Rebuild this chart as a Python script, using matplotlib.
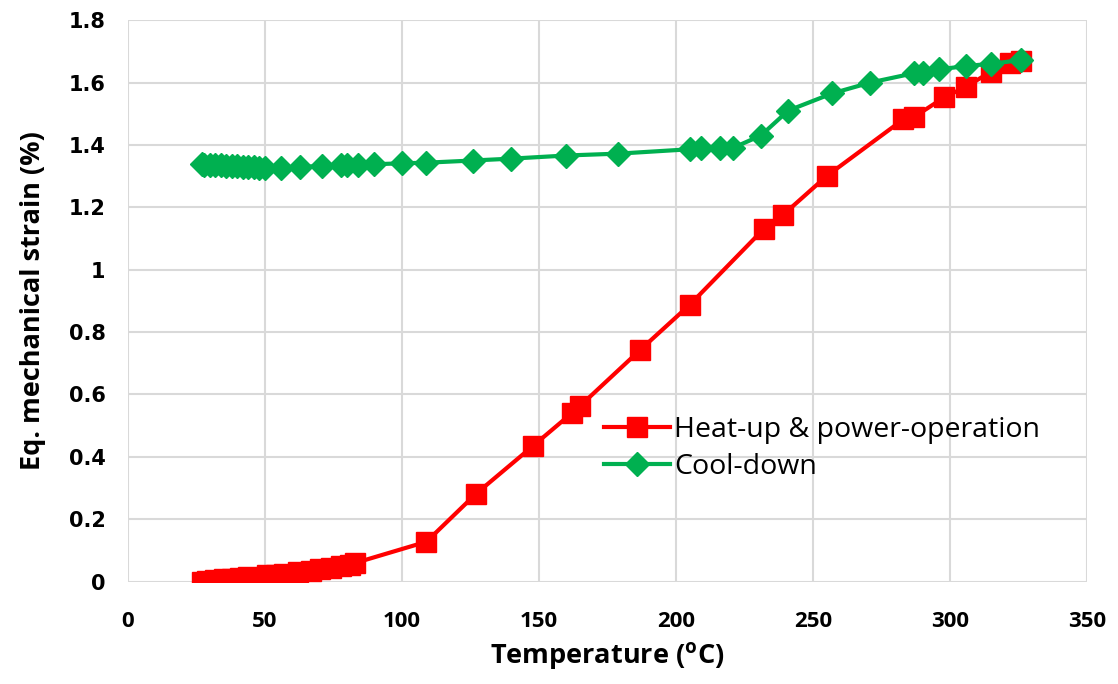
import matplotlib.pyplot as plt

# Heat-up & power-operation (temperature in degC, strain in %)
heat_temp = [27, 29, 32, 35, 38, 41, 44, 51, 54, 57, 62, 67, 70, 74, 78, 81, 83,
             109, 127, 148, 162, 165, 187, 205, 232, 239, 255, 283, 287, 298,
             306, 315, 322, 326]
heat_strain = [0.0, 0.002, 0.005, 0.007, 0.01, 0.012, 0.015, 0.02, 0.022, 0.025,
               0.03, 0.035, 0.04, 0.045, 0.05, 0.055, 0.06,
               0.128, 0.281, 0.436, 0.54, 0.563, 0.743, 0.887, 1.13, 1.175, 1.30,
               1.482, 1.49, 1.553, 1.587, 1.635, 1.662, 1.67]

# Cool-down
cool_temp = [326, 315, 306, 296, 290, 287, 271, 257, 241, 231, 221, 216, 209, 205,
             179, 160, 140, 126, 109, 100, 90, 84, 80, 78, 71, 63, 56,
             50, 48, 46, 44, 42, 40, 38, 36, 34, 32, 30, 28, 27]
cool_strain = [1.672, 1.66, 1.653, 1.642, 1.632, 1.63, 1.6, 1.565, 1.51, 1.43,
               1.391, 1.389, 1.389, 1.386,
               1.372, 1.366, 1.356, 1.35, 1.343, 1.341, 1.338, 1.337, 1.337, 1.334,
               1.332, 1.33, 1.327,
               1.326, 1.327, 1.328, 1.329, 1.33, 1.331, 1.332, 1.333, 1.334,
               1.335, 1.336, 1.337, 1.338]

x_ticks = [0, 50, 100, 150, 200, 250, 300, 350]
y_ticks = [0, 0.2, 0.4, 0.6, 0.8, 1.0, 1.2, 1.4, 1.6, 1.8]
y_tick_labels = ['0', '0.2', '0.4', '0.6', '0.8', '1', '1.2', '1.4', '1.6', '1.8']

fig = plt.figure(figsize=(11.18, 6.84), dpi=100)
ax = fig.add_axes([0.1142, 0.1496, 0.8581, 0.821])

ax.plot(heat_temp, heat_strain, color='#FF0000', lw=3, marker='s', ms=15,
        label='Heat-up & power-operation', zorder=3)
ax.plot(cool_temp, cool_strain, color='#00B050', lw=3, marker='D', ms=12.5,
        label='Cool-down', zorder=4)

ax.set_xlim(0, 350)
ax.set_ylim(0, 1.8)
ax.set_xticks(x_ticks)
ax.set_yticks(y_ticks)
ax.set_yticklabels(y_tick_labels)

ax.grid(True, color='#D9D9D9', lw=1.5)
ax.set_axisbelow(True)
for s in ax.spines.values():
    s.set_visible(False)
ax.tick_params(axis='x', length=0, pad=21)
ax.tick_params(axis='y', length=0, pad=16)

for lbl in ax.get_xticklabels():
    lbl.set_fontsize(16)
    lbl.set_fontweight('bold')
    lbl.set_fontfamily('Open Sans')
for lbl in ax.get_yticklabels():
    lbl.set_fontsize(15)
    lbl.set_fontweight('bold')
    lbl.set_fontfamily('DejaVu Sans')

ax.set_xlabel('Temperature ($\\mathregular{^o}$C)', fontsize=19.5, fontweight='bold',
              family='Open Sans', labelpad=6)
ax.set_ylabel('Eq. mechanical strain (%)', fontsize=19.5, fontweight='bold',
              family='Open Sans', labelpad=16)

ax.legend(loc='upper left', bbox_to_anchor=(0.485, 0.315), frameon=False,
          prop={'family': 'Open Sans', 'size': 20.5}, handlelength=2.3,
          handletextpad=0.15, labelspacing=0.3, borderaxespad=0)

fig.savefig('out.png', dpi=100, facecolor='white')
